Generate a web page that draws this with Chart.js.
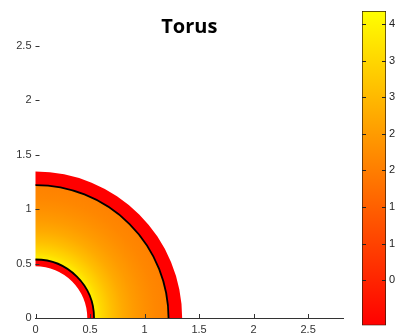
<!DOCTYPE html>
<html>
<head>
<meta charset="utf-8">
<script src="https://cdn.jsdelivr.net/npm/chart.js@4/dist/chart.umd.min.js"></script>
<style>
  body { margin: 0; background: #fff; }
  #wrap { position: relative; width: 396px; height: 335px; overflow: hidden; }
  canvas { position: absolute; top: 0; }
</style>
</head>
<body>
<div id="wrap">
  <canvas id="torusChart" width="350" height="335" style="left:0"></canvas>
  <canvas id="colorBar" width="56" height="335" style="left:340px"></canvas>
</div>
<script>
// axes
var xMax = 2.82;
var yMax = 2.58;
var xTickValues = [0, 0.5, 1, 1.5, 2, 2.5];
var yTickValues = [0, 0.5, 1, 1.5, 2, 2.5];

// colour bar
var cbRange = [-0.12, 4.18];
var cbTickValues = [0.5, 1, 1.5, 2, 2.5, 3, 3.5, 4];

// temperature across the torus section, read along the radius
var fieldRadii = [0.54, 0.6, 0.7, 0.8, 0.9, 1.0, 1.1, 1.215];
var fieldValues = [3.95, 3.55, 3.1, 2.75, 2.5, 2.3, 2.15, 2.05];

// cold edge bands (inner and outer) and the contour lines
var edgeInner = [0.475, 0.537];
var edgeOuter = [1.222, 1.345];
var edgeValue = -0.12;
var contourRadii = [0.537, 1.22];

var tickFont = { family: 'Liberation Sans', size: 11 };
function plainLabel(v) { return String(v); }

// autumn colormap: red -> yellow
function autumn(v) {
  var t = (v - cbRange[0]) / (cbRange[1] - cbRange[0]);
  t = Math.max(0, Math.min(1, t));
  return 'rgb(255,' + Math.round(255 * t) + ',0)';
}

function annulus(ctx, r0, r1) {
  ctx.beginPath();
  ctx.arc(0, 0, r1, 0, Math.PI / 2, false);
  ctx.arc(0, 0, r0, Math.PI / 2, 0, true);
  ctx.closePath();
}

var torusField = {
  id: 'torusField',
  beforeDatasetsDraw: function(chart) {
    var ctx = chart.ctx, xs = chart.scales.x, ys = chart.scales.y;
    var cx = xs.getPixelForValue(0), cy = ys.getPixelForValue(0);
    var kx = xs.getPixelForValue(1) - cx, ky = cy - ys.getPixelForValue(1);
    ctx.save();
    ctx.translate(cx, cy);
    ctx.scale(kx, -ky);

    // field
    var r0 = fieldRadii[0], r1 = fieldRadii[fieldRadii.length - 1];
    var g = ctx.createRadialGradient(0, 0, r0, 0, 0, r1);
    fieldRadii.forEach(function(r, i) {
      g.addColorStop((r - r0) / (r1 - r0), autumn(fieldValues[i]));
    });
    annulus(ctx, r0 - 0.01, r1 + 0.01);
    ctx.fillStyle = g;
    ctx.fill();

    // cold bands
    ctx.fillStyle = autumn(edgeValue);
    annulus(ctx, edgeInner[0], edgeInner[1]);
    ctx.fill();
    annulus(ctx, edgeOuter[0], edgeOuter[1]);
    ctx.fill();

    // contours
    ctx.strokeStyle = '#000';
    ctx.lineWidth = 1.8 / kx;
    contourRadii.forEach(function(r) {
      ctx.beginPath();
      ctx.arc(0, 0, r, 0, Math.PI / 2, false);
      ctx.stroke();
    });
    ctx.restore();
  },
  afterDraw: function(chart) {
    // inward tick marks
    var ctx = chart.ctx, a = chart.chartArea;
    ctx.save();
    ctx.strokeStyle = '#333';
    ctx.lineWidth = 1;
    ctx.beginPath();
    chart.scales.x.ticks.forEach(function(t) {
      var px = Math.round(chart.scales.x.getPixelForValue(t.value)) + 0.5;
      ctx.moveTo(px, a.bottom);
      ctx.lineTo(px, a.bottom - 4);
    });
    chart.scales.y.ticks.forEach(function(t) {
      var py = Math.round(chart.scales.y.getPixelForValue(t.value)) + 0.5;
      ctx.moveTo(a.left, py);
      ctx.lineTo(a.left + 4, py);
    });
    ctx.stroke();
    ctx.restore();
  }
};

new Chart(document.getElementById('torusChart'), {
  type: 'scatter',
  data: { datasets: [{ data: [] }] },
  options: {
    responsive: false,
    animation: false,
    events: [],
    layout: { padding: { left: 0, right: 7, top: 0, bottom: 0 } },
    plugins: {
      legend: { display: false },
      tooltip: { enabled: false },
      title: {
        display: true,
        text: 'Torus',
        fullSize: false,
        color: '#000',
        font: { family: 'Open Sans', size: 20, weight: 'bold', lineHeight: 1 },
        padding: { top: 17, bottom: 0 }
      }
    },
    scales: {
      x: {
        type: 'linear',
        min: 0,
        max: xMax,
        afterBuildTicks: function(s) { s.ticks = xTickValues.map(function(v) { return { value: v }; }); },
        afterFit: function(s) { s.height = 17; },
        ticks: { font: tickFont, color: '#333', padding: 5, maxRotation: 0, autoSkip: false, callback: plainLabel },
        grid: { drawOnChartArea: false, drawTicks: false },
        border: { color: '#333', width: 1 }
      },
      y: {
        type: 'linear',
        min: 0,
        max: yMax,
        afterBuildTicks: function(s) { s.ticks = yTickValues.map(function(v) { return { value: v }; }); },
        afterFit: function(s) { s.width = 35.5; },
        ticks: { font: tickFont, color: '#333', padding: 4, autoSkip: false, callback: plainLabel },
        grid: { drawOnChartArea: false, drawTicks: false },
        border: { display: false }
      }
    }
  },
  plugins: [torusField]
});

var barTicks = {
  id: 'barTicks',
  afterDatasetsDraw: function(chart) {
    var ctx = chart.ctx, a = chart.chartArea, ys = chart.scales.y;
    ctx.save();
    ctx.strokeStyle = '#222';
    ctx.lineWidth = 1;
    ctx.beginPath();
    ys.ticks.forEach(function(t) {
      var py = Math.round(ys.getPixelForValue(t.value)) + 0.5;
      ctx.moveTo(a.left, py);
      ctx.lineTo(a.left + 4, py);
      ctx.moveTo(a.right, py);
      ctx.lineTo(a.right - 4, py);
    });
    ctx.stroke();
    ctx.restore();
  }
};

new Chart(document.getElementById('colorBar'), {
  type: 'bar',
  data: {
    labels: [''],
    datasets: [{
      data: [cbRange],
      backgroundColor: function(c) {
        var a = c.chart.chartArea;
        if (!a) return 'red';
        var g = c.chart.ctx.createLinearGradient(0, a.bottom, 0, a.top);
        g.addColorStop(0, autumn(cbRange[0]));
        g.addColorStop(1, autumn(cbRange[1]));
        return g;
      },
      borderColor: '#2b1a0a',
      borderWidth: 1,
      borderSkipped: false,
      barPercentage: 1,
      categoryPercentage: 1
    }]
  },
  options: {
    responsive: false,
    animation: false,
    events: [],
    layout: { padding: { left: 22, right: 0, top: 11, bottom: 5 } },
    plugins: { legend: { display: false }, tooltip: { enabled: false } },
    scales: {
      x: { display: false },
      y: {
        position: 'right',
        min: cbRange[0],
        max: cbRange[1],
        afterBuildTicks: function(s) { s.ticks = cbTickValues.map(function(v) { return { value: v }; }); },
        afterFit: function(s) { s.width = 10; },
        ticks: { font: tickFont, color: '#222', padding: 3, callback: plainLabel },
        grid: { drawOnChartArea: false, drawTicks: false },
        border: { display: false }
      }
    }
  },
  plugins: [barTicks]
});
</script>
</body>
</html>
